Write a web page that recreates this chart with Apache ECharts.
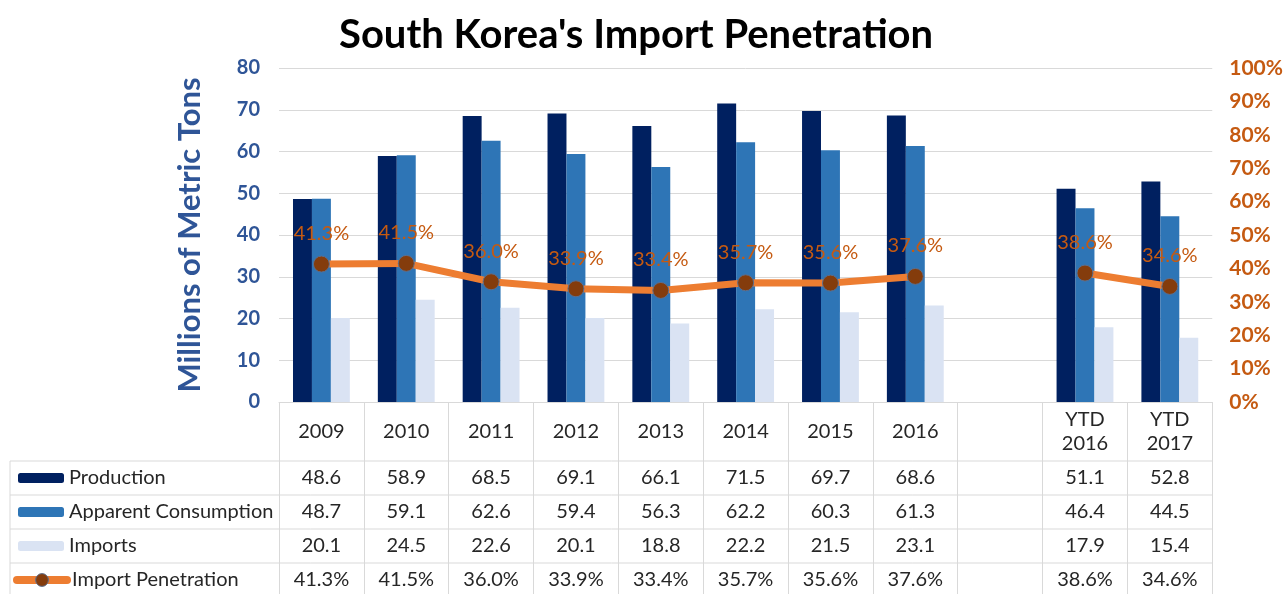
<!DOCTYPE html>
<html><head><meta charset="utf-8">
<script src="https://cdn.jsdelivr.net/npm/echarts@6/dist/echarts.min.js"></script>
<style>html,body{margin:0;padding:0;background:#fff}#c{width:1286px;height:594px}</style>
</head><body><div id="c"></div>
<script>
const categories = ['2009','2010','2011','2012','2013','2014','2015','2016','','YTD\n2016','YTD\n2017'];
const production = [48.6,58.9,68.5,69.1,66.1,71.5,69.7,68.6,null,51.1,52.8];
const consumption = [48.7,59.1,62.6,59.4,56.3,62.2,60.3,61.3,null,46.4,44.5];
const imports = [20.1,24.5,22.6,20.1,18.8,22.2,21.5,23.1,null,17.9,15.4];
const penetration = [41.3,41.5,36.0,33.9,33.4,35.7,35.6,37.6,null,38.6,34.6];
const seriesNames = ['Production','Apparent Consumption','Imports','Import Penetration'];
const leftTicks = {min:0,max:80,interval:10};
const rightTicks = {min:0,max:100,interval:10};

const FONT = 'Lato';
const FS = 20;
const fmt1 = v => v == null ? '' : v.toFixed(1);
const fmtP = v => v == null ? '' : v.toFixed(1) + '%';
const rows = [production.map(fmt1), consumption.map(fmt1), imports.map(fmt1), penetration.map(fmtP)];
const rowOffsets = [76,110,144,178];
const rowTops = [461,495,529,563];

const chart = echarts.init(document.getElementById('c'));
const xAxes = [{
  type:'category', data:categories, boundaryGap:true, position:'bottom',
  axisLine:{show:true,lineStyle:{color:'#d9d9d9',width:1}},
  axisTick:{show:true,interval:0,length:195,lineStyle:{color:'#d9d9d9',width:1}},
  axisLabel:{interval:0,margin:30,verticalAlign:'middle',lineHeight:24,fontSize:FS,color:'#262626',fontFamily:FONT}
}];
rows.forEach((r,i)=>{
  xAxes.push({type:'category',data:r,position:'bottom',offset:rowOffsets[i],
    axisLine:{show:false},axisTick:{show:false},
    axisLabel:{interval:0,margin:0,verticalAlign:'middle',fontSize:FS,color:'#262626',fontFamily:FONT}});
});
const hLines = rowTops.map(y=>({type:'line',shape:{x1:10,y1:y,x2:1213,y2:y},style:{stroke:'#d9d9d9',lineWidth:1}}));
hLines.push({type:'line',shape:{x1:10,y1:461,x2:10,y2:594},style:{stroke:'#d9d9d9',lineWidth:1}});

const legends = seriesNames.map((n,i)=>({
  orient:'vertical',left:i===3?13:18,top:rowTops[i],height:34,padding:0,itemGap:0,
  itemWidth:i===3?50:46,itemHeight:i===3?16:10,
  textStyle:{fontSize:FS,color:'#262626',lineHeight:34,fontFamily:FONT},
  data:[i===3 ? {name:n,lineStyle:{width:8,color:'#ED7D31',cap:'round'},itemStyle:{color:'#843C0C',borderColor:'#5B6F8F',borderWidth:1}} : n]}));

chart.setOption({
  animation:false,
  textStyle:{fontFamily:FONT},
  title:{text:"South Korea's Import Penetration",left:334,top:10,
    textStyle:{fontSize:40,fontWeight:'bold',color:'#000',fontFamily:FONT}},
  grid:{left:279,right:73,top:68,bottom:192,containLabel:false},
  legend:legends,
  xAxis:xAxes,
  yAxis:[{type:'value',min:leftTicks.min,max:leftTicks.max,interval:leftTicks.interval,
    name:'Millions of Metric Tons',nameLocation:'middle',nameGap:74,nameRotate:90,
    nameTextStyle:{fontSize:31,fontWeight:'bold',color:'#2F5597',fontFamily:FONT},
    axisLine:{show:false},axisTick:{show:false},
    axisLabel:{margin:19,fontSize:FS,fontWeight:'bold',color:'#2F5597',fontFamily:FONT},
    splitLine:{lineStyle:{color:'#d9d9d9'}}},
   {type:'value',min:rightTicks.min,max:rightTicks.max,interval:rightTicks.interval,position:'right',
    axisLine:{show:false},axisTick:{show:false},splitLine:{show:false},
    axisLabel:{margin:17,fontSize:21,fontWeight:'bold',color:'#C55A11',fontFamily:FONT,formatter:'{value}%'}}],
  graphic:hLines,
  series:[
    {name:seriesNames[0],type:'bar',data:production,barGap:'0%',barCategoryGap:'33%',itemStyle:{color:'#002060'}},
    {name:seriesNames[1],type:'bar',data:consumption,itemStyle:{color:'#2E75B6'}},
    {name:seriesNames[2],type:'bar',data:imports,itemStyle:{color:'#DAE3F3'}},
    {name:seriesNames[3],type:'line',yAxisIndex:1,data:penetration,connectNulls:false,
     symbol:'circle',symbolSize:16,
     itemStyle:{color:'#843C0C',borderColor:'#5B6F8F',borderWidth:1},
     lineStyle:{color:'#ED7D31',width:7},
     label:{show:true,position:'top',distance:12,fontSize:FS,color:'#C55A11',fontFamily:FONT,formatter:p=>p.value.toFixed(1)+'%'},
     z:5}
  ]
});
</script></body></html>
